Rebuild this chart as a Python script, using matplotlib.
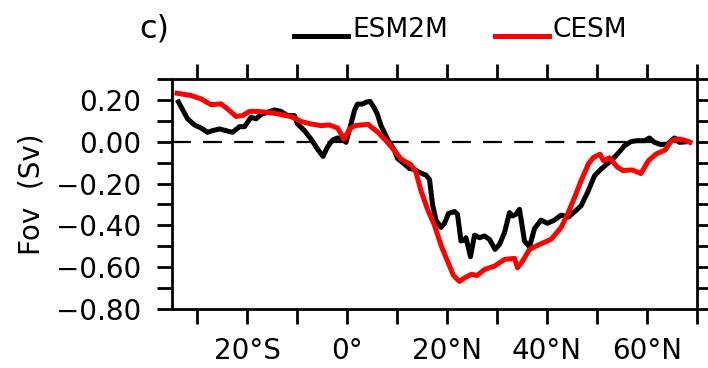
import numpy as np
import matplotlib
matplotlib.use("Agg")
import matplotlib.pyplot as plt
from matplotlib.lines import Line2D
from matplotlib.ticker import FixedLocator

# latitude (deg, negative = south) and Fov (Sv)
esm_lat = [-33.7, -31.9, -30.5, -29.2, -27.9, -26.9, -25.5, -24.2, -22.9, -21.5,
           -20.5, -19.2, -18.2, -17.2, -15.9, -14.5, -13.2, -11.9, -10.5, -9.9,
           -8.5, -7.2, -5.9, -4.8, -3.9, -2.9, -1.9, -0.9, -0.2, 0.8,
           1.5, 2.1, 3.1, 3.8, 4.6, 5.5, 6.1, 6.8, 8.1, 9.5,
           10.1, 11.5, 12.5, 13.5, 14.5, 15.8, 16.5, 17.1, 17.8, 18.8,
           19.5, 20.3, 21.5, 22.1, 22.8, 23.5, 23.8, 24.7, 25.5, 26.5,
           27.5, 28.5, 29.6, 30.5, 31.5, 32.5, 33.1, 33.8, 34.5, 35.5,
           36.5, 37.5, 38.8, 40.1, 41.5, 42.8, 44.3, 45.5, 46.8, 48.1,
           49.5, 50.8, 52.8, 54.1, 55.5, 56.8, 58.1, 59.5, 60.5, 61.5,
           62.8, 64.1, 65.5, 66.5, 68.0]
esm_fov = [0.19, 0.11, 0.08, 0.066, 0.045, 0.053, 0.061, 0.053, 0.045, 0.072,
           0.072, 0.117, 0.109, 0.13, 0.141, 0.152, 0.145, 0.125, 0.125, 0.085,
           0.053, 0.013, -0.035, -0.07, -0.025, 0.008, 0.018, 0.013, -0.003, 0.085,
           0.15, 0.18, 0.18, 0.189, 0.193, 0.16, 0.13, 0.077, 0.013, -0.043,
           -0.08, -0.107, -0.128, -0.133, -0.147, -0.16, -0.18, -0.299, -0.375, -0.41,
           -0.39, -0.343, -0.334, -0.347, -0.475, -0.47, -0.459, -0.55, -0.447, -0.459,
           -0.451, -0.467, -0.515, -0.491, -0.435, -0.339, -0.355, -0.347, -0.323, -0.475,
           -0.503, -0.415, -0.375, -0.39, -0.375, -0.351, -0.36, -0.335, -0.307, -0.243,
           -0.163, -0.131, -0.091, -0.059, -0.019, 0.001, 0.005, 0.005, 0.018, -0.003,
           -0.014, -0.011, 0.018, -0.003, 0.0]

cesm_lat = [-34.0, -31.2, -29.2, -27.2, -25.2, -23.9, -22.2, -20.9, -19.5, -17.9,
            -16.2, -14.5, -13.2, -11.2, -9.2, -7.2, -5.2, -3.5, -1.9, -0.6,
            0.5, 1.6, 2.8, 4.3, 4.9, 6.1, 7.8, 9.5, 10.8, 12.8,
            13.8, 14.8, 16.1, 17.5, 18.8, 20.1, 21.3, 22.5, 23.6, 24.9,
            26.0, 27.5, 29.5, 31.5, 33.5, 34.1, 35.1, 36.5, 38.5, 40.8,
            42.8, 44.1, 45.5, 46.8, 48.3, 49.3, 50.6, 51.3, 52.5, 54.0,
            55.2, 57.0, 58.8, 60.3, 61.8, 63.6, 64.8, 66.1, 67.5, 68.6]
cesm_fov = [0.232, 0.221, 0.205, 0.177, 0.181, 0.157, 0.121, 0.125, 0.145, 0.145,
            0.141, 0.136, 0.13, 0.12, 0.097, 0.085, 0.077, 0.08, 0.066, 0.012,
            0.061, 0.077, 0.08, 0.083, 0.069, 0.047, 0.005, -0.043, -0.083, -0.11,
            -0.147, -0.235, -0.323, -0.4, -0.495, -0.571, -0.64, -0.668, -0.65, -0.634,
            -0.64, -0.611, -0.595, -0.563, -0.558, -0.603, -0.571, -0.515, -0.491, -0.467,
            -0.411, -0.347, -0.267, -0.187, -0.105, -0.075, -0.06, -0.091, -0.077, -0.12,
            -0.138, -0.135, -0.152, -0.09, -0.059, -0.04, 0.003, 0.013, 0.008, -0.003]

xticks = [-20, 0, 20, 40, 60]
xlabels = ["20°S", "0°", "20°N", "40°N", "60°N"]
yticks = [0.2, 0.0, -0.2, -0.4, -0.6, -0.8]
ylabels = ["0.20", "0.00", "\u22120.20", "\u22120.40", "\u22120.60", "\u22120.80"]

plt.rcParams["font.family"] = "DejaVu Sans"

fig = plt.figure(figsize=(7.08, 3.68), dpi=100)
ax = fig.add_axes([172 / 708, 1 - 309 / 368, (697 - 172) / 708, (309 - 79) / 368])

ax.axhline(0, color="black", lw=1.6, linestyle=(0, (8.5, 5.5)), zorder=1)
ax.plot(esm_lat, esm_fov, color="black", lw=3.6, zorder=2)
ax.plot(cesm_lat, cesm_fov, color="red", lw=3.6, zorder=3)

ax.set_xlim(-35, 70)
ax.set_ylim(-0.8, 0.3)

ax.xaxis.set_major_locator(FixedLocator(xticks))
ax.set_xticklabels(xlabels)
ax.xaxis.set_minor_locator(FixedLocator([-30, -10, 10, 30, 50, 70]))
ax.yaxis.set_major_locator(FixedLocator(yticks))
ax.set_yticklabels(ylabels)
ax.yaxis.set_minor_locator(FixedLocator([0.3, 0.1, -0.1, -0.3, -0.5, -0.7]))

for s in ax.spines.values():
    s.set_linewidth(2.0)
ax.tick_params(which="both", direction="out", length=11, width=2.0,
               top=True, right=True, labelsize=20)
ax.tick_params(axis="x", pad=9)
ax.tick_params(axis="y", pad=11)

ax.set_ylabel("Fov  (Sv)", fontsize=20, labelpad=8)

# title and legend
fig.text(139 / 708, 1 - 38 / 368, "c)", fontsize=23, va="baseline", ha="left")
fig.add_artist(Line2D([294 / 708, 348 / 708], [1 - 36 / 368] * 2, color="black", lw=3.6))
fig.text(352 / 708, 1 - 37 / 368, "ESM2M", fontsize=19, va="baseline", ha="left")
fig.add_artist(Line2D([495 / 708, 549 / 708], [1 - 36 / 368] * 2, color="red", lw=3.6))
fig.text(552 / 708, 1 - 37 / 368, "CESM", fontsize=19, va="baseline", ha="left")

fig.savefig("out.png", dpi=100)
